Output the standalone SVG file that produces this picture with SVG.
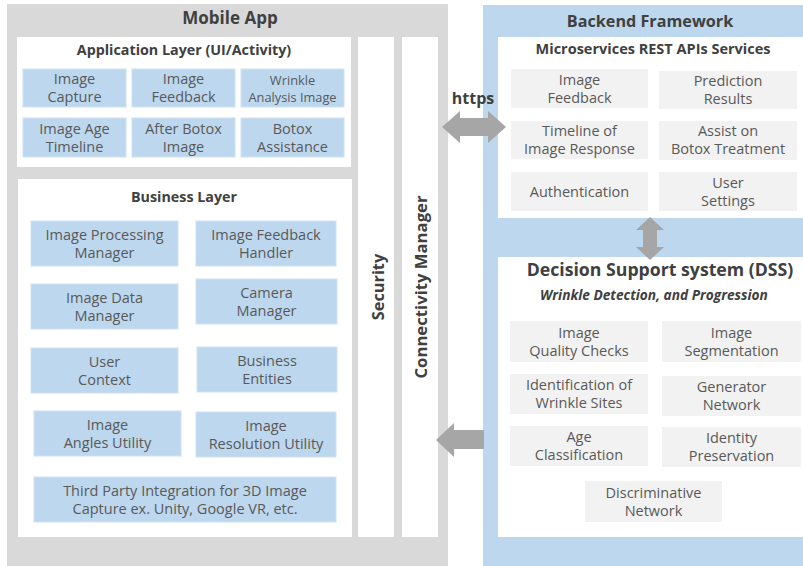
<svg xmlns="http://www.w3.org/2000/svg" width="803" height="566" viewBox="0 0 803 566">
<style>
.frame{fill:#d9d9d9}
.white{fill:#ffffff}
.bfr{fill:#bdd7ee}
.bb{fill:#bdd7ee;stroke:#cfe2f3;stroke-width:1}
.gb{fill:#f2f2f2}
.t{font-family:"Open Sans","Noto Sans",sans-serif;font-size:14.5px;fill:#595959;text-anchor:middle}
.ts{font-size:12.8px}
.h1{font-family:"Open Sans","Noto Sans",sans-serif;font-size:17px;font-weight:bold;fill:#404040;text-anchor:middle}
.h2{font-family:"Open Sans","Noto Sans",sans-serif;font-size:14.3px;font-weight:bold;fill:#404040;text-anchor:middle}
.arr{fill:#a6a6a6}
</style>
<rect width="803" height="566" fill="#ffffff"/>
<g id="mobile-app">
<rect class="frame" x="7" y="4" width="441" height="562"/>
<text class="h1" x="230" y="24">Mobile App</text>
</g>
<g id="application-layer">
<rect class="white" x="17" y="37" width="334" height="130"/>
<text class="h2" x="184" y="55">Application Layer (UI/Activity)</text>
</g>
<g id="app-image-capture"><rect class="bb" x="23" y="69" width="103" height="38"/><text class="t" x="74.5" y="84">Image</text><text class="t" x="74.5" y="102">Capture</text></g>
<g id="app-image-feedback"><rect class="bb" x="132" y="69" width="103" height="38"/><text class="t" x="183.5" y="84">Image</text><text class="t" x="183.5" y="102">Feedback</text></g>
<g id="app-wrinkle-analysis"><rect class="bb" x="241" y="69" width="103" height="38"/><text class="t ts" x="292.5" y="84.5">Wrinkle</text><text class="t ts" x="292.5" y="102">Analysis Image</text></g>
<g id="app-image-age-timeline"><rect class="bb" x="23" y="118" width="103" height="39"/><text class="t" x="74.5" y="133.5">Image Age</text><text class="t" x="74.5" y="151.5">Timeline</text></g>
<g id="app-after-botox"><rect class="bb" x="132" y="118" width="103" height="39"/><text class="t" x="183.5" y="133.5">After Botox</text><text class="t" x="183.5" y="151.5">Image</text></g>
<g id="app-botox-assistance"><rect class="bb" x="241" y="118" width="103" height="39"/><text class="t" x="292.5" y="133.5">Botox</text><text class="t" x="292.5" y="151.5">Assistance</text></g>
<g id="business-layer">
<rect class="white" x="18" y="179" width="334" height="358"/>
<text class="h2" x="184" y="202">Business Layer</text>
</g>
<g id="biz-image-processing"><rect class="bb" x="31" y="221" width="147" height="45"/><text class="t" x="104.5" y="239.5">Image Processing</text><text class="t" x="104.5" y="257.5">Manager</text></g>
<g id="biz-image-feedback-handler"><rect class="bb" x="196" y="221" width="140" height="45"/><text class="t" x="266" y="239.5">Image Feedback</text><text class="t" x="266" y="257.5">Handler</text></g>
<g id="biz-image-data"><rect class="bb" x="31" y="284" width="147" height="45"/><text class="t" x="104.5" y="302.5">Image Data</text><text class="t" x="104.5" y="320.5">Manager</text></g>
<g id="biz-camera"><rect class="bb" x="196" y="279" width="141" height="45"/><text class="t" x="266.5" y="297.5">Camera</text><text class="t" x="266.5" y="315.5">Manager</text></g>
<g id="biz-user-context"><rect class="bb" x="31" y="348" width="147" height="45"/><text class="t" x="104.5" y="366.5">User</text><text class="t" x="104.5" y="384.5">Context</text></g>
<g id="biz-business-entities"><rect class="bb" x="197" y="347" width="140" height="45"/><text class="t" x="267" y="365.5">Business</text><text class="t" x="267" y="383.5">Entities</text></g>
<g id="biz-image-angles"><rect class="bb" x="34" y="411" width="147" height="45"/><text class="t" x="107.5" y="429.5">Image</text><text class="t" x="107.5" y="447.5">Angles Utility</text></g>
<g id="biz-image-resolution"><rect class="bb" x="196" y="412" width="140" height="45"/><text class="t" x="266" y="430.5">Image</text><text class="t" x="266" y="448.5">Resolution Utility</text></g>
<g id="biz-third-party"><rect class="bb" x="34" y="477" width="302" height="45"/><text class="t" x="185" y="495.5">Third Party Integration for 3D Image</text><text class="t" x="185" y="513.5">Capture ex. Unity, Google VR, etc.</text></g>
<g id="security">
<rect class="white" x="358" y="37" width="36" height="500"/>
<text class="h2" style="font-size:16.3px" transform="translate(384 287) rotate(-90)">Security</text>
</g>
<g id="connectivity-manager">
<rect class="white" x="402" y="37" width="36" height="500"/>
<text class="h2" style="font-size:16.7px" transform="translate(427 287) rotate(-90)">Connectivity Manager</text>
</g>
<g id="backend-framework">
<rect class="bfr" x="483" y="5" width="320" height="561"/>
<text class="h1" style="font-size:16.2px" x="650" y="27">Backend Framework</text>
</g>
<g id="microservices">
<rect class="white" x="498" y="37" width="305" height="181"/>
<text class="h2" style="font-size:14.5px" x="653" y="54">Microservices REST APIs Services</text>
</g>
<g id="ms-image-feedback"><rect class="gb" x="511" y="69" width="137" height="39"/><text class="t" x="579.5" y="84.5">Image</text><text class="t" x="579.5" y="102.5">Feedback</text></g>
<g id="ms-prediction-results"><rect class="gb" x="659" y="71" width="138" height="38"/><text class="t" x="728" y="85.5">Prediction</text><text class="t" x="728" y="103.5">Results</text></g>
<g id="ms-timeline"><rect class="gb" x="511" y="121" width="137" height="38"/><text class="t" x="579.5" y="135.5">Timeline of</text><text class="t" x="579.5" y="153.5">Image Response</text></g>
<g id="ms-assist-botox"><rect class="gb" x="659" y="121" width="138" height="39"/><text class="t" x="728" y="136">Assist on</text><text class="t" x="728" y="154">Botox Treatment</text></g>
<g id="ms-authentication"><rect class="gb" x="511" y="172" width="137" height="39"/><text class="t" x="579.5" y="197">Authentication</text></g>
<g id="ms-user-settings"><rect class="gb" x="659" y="172" width="138" height="39"/><text class="t" x="728" y="187.5">User</text><text class="t" x="728" y="205.5">Settings</text></g>
<g id="dss">
<rect class="white" x="498" y="257" width="305" height="280"/>
<text class="h1" style="font-size:17.7px" x="660" y="276">Decision Support system (DSS)</text>
<text class="h2" style="font-size:13.7px;font-style:italic" x="654" y="300">Wrinkle Detection, and Progression</text>
</g>
<g id="dss-quality"><rect class="gb" x="510" y="321" width="138" height="41"/><text class="t" x="579" y="337.5">Image</text><text class="t" x="579" y="355.5">Quality Checks</text></g>
<g id="dss-segmentation"><rect class="gb" x="662" y="321" width="139" height="41"/><text class="t" x="731.5" y="337.5">Image</text><text class="t" x="731.5" y="355.5">Segmentation</text></g>
<g id="dss-wrinkle-sites"><rect class="gb" x="510" y="374" width="138" height="40"/><text class="t" x="579" y="390">Identification of</text><text class="t" x="579" y="408">Wrinkle Sites</text></g>
<g id="dss-generator"><rect class="gb" x="662" y="376" width="139" height="40"/><text class="t" x="731.5" y="392">Generator</text><text class="t" x="731.5" y="410">Network</text></g>
<g id="dss-age"><rect class="gb" x="510" y="426" width="138" height="40"/><text class="t" x="579" y="442">Age</text><text class="t" x="579" y="460">Classification</text></g>
<g id="dss-identity"><rect class="gb" x="662" y="427" width="139" height="40"/><text class="t" x="731.5" y="443">Identity</text><text class="t" x="731.5" y="461">Preservation</text></g>
<g id="dss-discriminative"><rect class="gb" x="585" y="481" width="137" height="41"/><text class="t" x="653.5" y="497.5">Discriminative</text><text class="t" x="653.5" y="515.5">Network</text></g>
<g id="connectors">
<polygon class="arr" points="442,127 460,111 460,118 488,118 488,111 506,127 488,143 488,136 460,136 460,143"/>
<text class="h2" style="font-size:16px" x="473" y="104">https</text>
<polygon class="arr" points="650,217 664,230 657,230 657,247 664,247 650,260 636,247 643,247 643,230 636,230"/>
<polygon class="arr" points="436,440 454,423 454,430 484,430 484,449 454,449 454,457"/>
</g>
</svg>
